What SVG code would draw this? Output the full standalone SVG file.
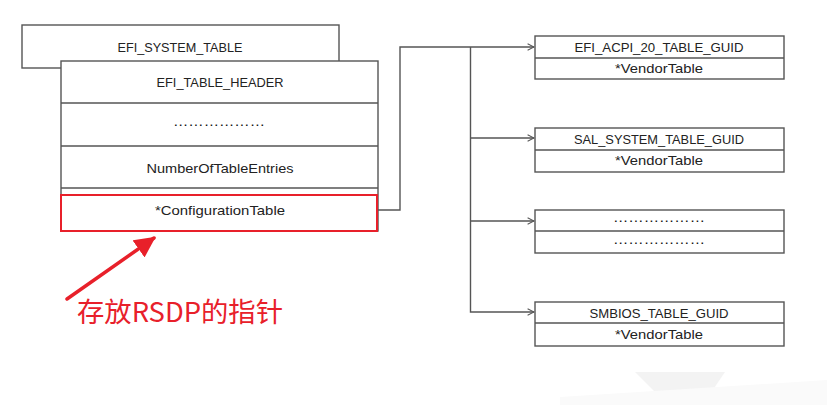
<svg xmlns="http://www.w3.org/2000/svg" width="827" height="405" viewBox="0 0 827 405">
<defs>
<style>
.box{fill:#fff;stroke:#555;stroke-width:1.4}
.ln{fill:none;stroke:#555;stroke-width:1.4}
.t{font-family:"Liberation Sans","Noto Sans",sans-serif;font-size:13.5px;fill:#222;text-anchor:middle}
.d{font-family:"Liberation Sans",sans-serif;font-size:12px;fill:#111;text-anchor:middle}
.cn{font-family:"Noto Sans CJK SC",sans-serif;font-size:27px;fill:#e8202a}
</style>
<marker id="open" viewBox="0 0 10 10" refX="9" refY="5" markerWidth="8" markerHeight="8" markerUnits="userSpaceOnUse" orient="auto">
<path d="M1,1 L9,5 L1,9" fill="none" stroke="#555" stroke-width="1.3"/>
</marker>
<marker id="red" viewBox="0 0 10 10" refX="9" refY="5" markerWidth="6" markerHeight="6" orient="auto">
<path d="M0,0 L10,5 L0,10 Z" fill="#e8202a"/>
</marker>
</defs>
<rect width="827" height="405" fill="#fff"/>
<polygon points="635,372 725,372 708,397 660,397" fill="#f3f3f3"/>
<polygon points="560,397 827,380 827,405 560,405" fill="#fafafa"/>

<g id="efi-system-table">
<rect class="box" x="22" y="25" width="317" height="43"/>
<text class="t" x="180" y="52" textLength="125" lengthAdjust="spacingAndGlyphs">EFI_SYSTEM_TABLE</text>
</g>
<g id="system-table-body">
<rect class="box" x="61" y="61" width="317" height="170"/>
<line class="ln" x1="61" y1="103" x2="378" y2="103"/>
<line class="ln" x1="61" y1="146" x2="378" y2="146"/>
<line class="ln" x1="61" y1="188" x2="378" y2="188"/>
<text class="t" x="220" y="87" textLength="127" lengthAdjust="spacingAndGlyphs">EFI_TABLE_HEADER</text>
<text class="d" x="219" y="126" textLength="92" lengthAdjust="spacingAndGlyphs">………………</text>
<text class="t" x="220" y="173" textLength="147" lengthAdjust="spacingAndGlyphs">NumberOfTableEntries</text>
</g>
<g id="configuration-table">
<rect x="61" y="195" width="316" height="36" fill="#fff" stroke="#e8202a" stroke-width="2"/>
<text class="t" x="220" y="215" textLength="130" lengthAdjust="spacingAndGlyphs">*ConfigurationTable</text>
</g>

<g id="acpi">
<rect class="box" x="535" y="36" width="249" height="43"/>
<line class="ln" x1="535" y1="58" x2="784" y2="58"/>
<text class="t" x="659" y="52" textLength="169" lengthAdjust="spacingAndGlyphs">EFI_ACPI_20_TABLE_GUID</text>
<text class="t" x="659" y="73" textLength="88" lengthAdjust="spacingAndGlyphs">*VendorTable</text>
</g>
<g id="sal">
<rect class="box" x="535" y="128" width="249" height="44"/>
<line class="ln" x1="535" y1="150" x2="784" y2="150"/>
<text class="t" x="659" y="144" textLength="170" lengthAdjust="spacingAndGlyphs">SAL_SYSTEM_TABLE_GUID</text>
<text class="t" x="659" y="165" textLength="88" lengthAdjust="spacingAndGlyphs">*VendorTable</text>
</g>
<g id="other">
<rect class="box" x="535" y="210" width="249" height="43"/>
<line class="ln" x1="535" y1="231" x2="784" y2="231"/>
<text class="d" x="659" y="222" textLength="92" lengthAdjust="spacingAndGlyphs">………………</text>
<text class="d" x="659" y="244" textLength="92" lengthAdjust="spacingAndGlyphs">………………</text>
</g>
<g id="smbios">
<rect class="box" x="535" y="302" width="249" height="44"/>
<line class="ln" x1="535" y1="323" x2="784" y2="323"/>
<text class="t" x="659" y="318" textLength="139" lengthAdjust="spacingAndGlyphs">SMBIOS_TABLE_GUID</text>
<text class="t" x="659" y="339" textLength="88" lengthAdjust="spacingAndGlyphs">*VendorTable</text>
</g>

<g id="connectors">
<polyline class="ln" points="378,210 400,210 400,47 534,47" marker-end="url(#open)"/>
<polyline class="ln" points="470.5,47 470.5,312 534,312" marker-end="url(#open)"/>
<line class="ln" x1="470.5" y1="138" x2="534" y2="138" marker-end="url(#open)"/>
<line class="ln" x1="470.5" y1="221" x2="534" y2="221" marker-end="url(#open)"/>
<line x1="67" y1="299" x2="154" y2="238" stroke="#e8202a" stroke-width="3.5" stroke-linecap="round" marker-end="url(#red)"/>
</g>

<g id="annotation">
<text class="cn" x="77" y="322" textLength="206" lengthAdjust="spacingAndGlyphs">存放RSDP的指针</text>
</g>
</svg>
